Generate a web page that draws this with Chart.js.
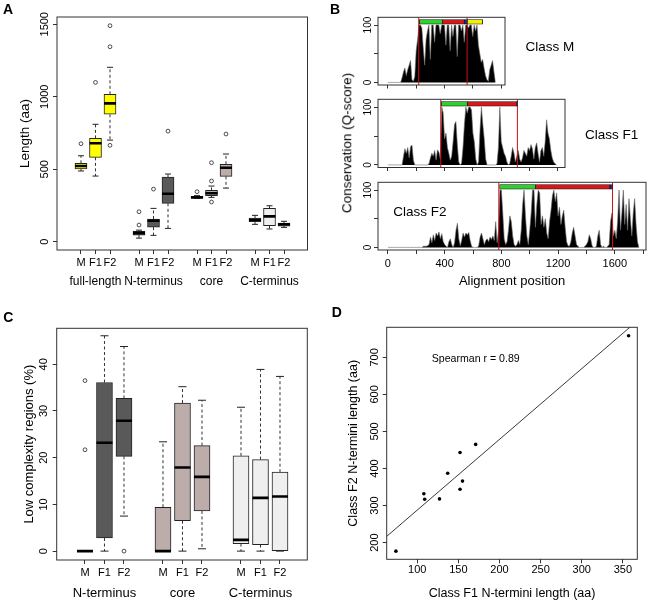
<!DOCTYPE html>
<html><head><meta charset="utf-8">
<script src="https://cdn.jsdelivr.net/npm/chart.js@4.4.0/dist/chart.umd.min.js"></script>
<style>
html,body{margin:0;padding:0;background:#fff;}
body{width:651px;height:604px;position:relative;overflow:hidden;font-family:'Liberation Sans',Arial,sans-serif;}
canvas{position:absolute;}
.lbl{position:absolute;white-space:nowrap;line-height:1;color:#000;}
.panel{font-weight:bold;font-size:14px;}
.rot{transform:translate(-50%,-50%) rotate(-90deg);}
.ctr{transform:translate(-50%,-50%);}
</style></head><body>
<canvas id="cA" width="325" height="300" style="left:0;top:0"></canvas>
<canvas id="cBM" width="316" height="80" style="left:335px;top:10px"></canvas>
<canvas id="cBF1" width="316" height="80" style="left:335px;top:92px"></canvas>
<canvas id="cBF2" width="316" height="125" style="left:335px;top:175px"></canvas>
<canvas id="cC" width="325" height="304" style="left:0;top:300px"></canvas>
<canvas id="cD" width="316" height="304" style="left:335px;top:300px"></canvas>
<div class="lbl panel" style="left:3px;top:2px">A</div>
<div class="lbl panel" style="left:330px;top:1.5px">B</div>
<div class="lbl panel" style="left:3.3px;top:310px">C</div>
<div class="lbl panel" style="left:331.7px;top:305px">D</div>
<div class="lbl rot" style="left:346.7px;top:143px;font-size:13.5px">Conservation (Q-score)</div>
<div class="lbl ctr" style="left:550px;top:46.7px;font-size:13.5px">Class M</div>
<div class="lbl ctr" style="left:611.7px;top:135px;font-size:13.5px">Class F1</div>
<div class="lbl ctr" style="left:420px;top:212px;font-size:13.5px">Class F2</div>
<script>
// ---------------- DATA ----------------
// Panel A: protein/region lengths (aa)
const aPositions = [1,2,3, 5,6,7, 9,10,11, 13,14,15];
const aTickLabels = ['M','F1','F2','M','F1','F2','M','F1','F2','M','F1','F2'];
const aGroups = ['full-length','N-terminus','core','C-terminus'];
const aGroupPositions = [2,6,10,14];
const aYTicks = [0,500,1000,1500];
const aLow    = [488, 453, 701,  25,  44,  92, 300, 306, 370, 120,  88,  99];
const aQ1     = [503, 582, 879,  46, 101, 265, 301, 317, 451, 138, 110, 108];
const aMedian = [522, 679, 954,  60, 145, 331, 306, 334, 510, 152, 175, 120];
const aQ3     = [541, 713,1017,  72, 157, 446, 313, 354, 534, 163, 230, 129];
const aHigh   = [593, 810,1203,  80, 230, 467, 318, 384, 605, 182, 248, 141];
const aOutliers = [[676],[1099],[1490,1345,665],[207,115],[363],[763],[345],[545,419,274],[743],[],[],[]];

// Panel B: conservation profiles (Q-score), one value every 10 alignment positions
const profileStep = 10;
const classMProfile = [0,0,0,0,0,0,0,0,0,0,
  8,18,25,12,22,30,38,5,2,10,
  55,75,100,100,95,60,30,75,90,100,
  40,100,100,70,100,100,100,85,100,100,
  100,65,100,100,55,100,80,100,100,45,
  100,100,90,100,70,100,100,95,100,100,
  80,100,90,100,65,50,35,40,25,12,
  5,2,22,30,38,18,0];
const classF1Profile = [0,0,0,0,0,0,0,0,0,0,0,
  15,28,20,30,12,32,34,8,0,0,
  0,0,0,0,0,0,0,0,2,12,
  20,15,25,8,26,22,10,100,90,45,
  55,30,20,8,15,40,70,75,35,5,
  0,3,30,70,100,90,100,100,95,55,
  40,10,0,5,60,100,70,45,10,0,
  0,0,0,0,0,0,2,30,100,40,
  30,20,15,5,0,2,15,30,20,5,
  15,25,10,5,12,25,20,15,30,25,
  35,28,10,30,38,20,5,25,30,15,
  40,78,55,45,25,12,5,2,0];
const classF2Profile = [0,0,0,0,0,0,0,0,0,0,0,0,0,0,0,0,0,0,0,0,0,0,0,0,0,
  2,2,2,3,5,18,8,22,12,25,
  20,27,15,24,10,5,2,0,10,15,
  5,0,8,30,42,15,3,12,25,18,
  25,22,26,12,2,0,0,0,0,3,
  18,25,15,5,12,15,10,18,14,20,
  12,45,8,30,100,100,60,15,5,10,
  30,55,45,20,5,2,5,12,5,30,
  75,100,55,20,5,30,60,100,100,35,
  75,100,95,40,55,35,50,25,15,45,
  65,90,100,80,95,55,70,40,55,65,
  35,10,3,2,10,25,35,20,5,2,
  0,0,0,0,2,5,10,22,15,3,
  0,0,2,20,30,5,0,2,0,0,
  2,5,45,60,20,30,15,45,100,30,
  60,100,40,75,30,85,50,20,60,85,
  40,10,0];
// core boundaries (red lines) and domain bars
const classMCore = [218, 560];
const classF1Core = [373, 914];
const classF2Core = [782, 1584];
const classMBarStart = [222, 386, 540, 561];
const classMBarEnd   = [386, 540, 561, 670];
const classF1BarStart = [376, 561, 908];
const classF1BarEnd   = [561, 908, 915];
const classF2BarStart = [788, 1041, 1566];
const classF2BarEnd   = [1041, 1566, 1583];
const bXTicks = [0,200,400,600,800,1000,1200,1400,1600,1800];
const bXLabels = ['0','','400','','800','','1200','','1600',''];
const bYTicks = [0,50,100];
const bYLabels = ['0','','100'];

// Panel C: low complexity regions (%)
const cPositions = [1,2,3, 5,6,7, 9,10,11];
const cTickLabels = ['M','F1','F2','M','F1','F2','M','F1','F2'];
const cGroups = ['N-terminus','core','C-terminus'];
const cGroupPositions = [2,6,10];
const cYTicks = [0,10,20,30,40];
const cLow    = [0,   0,    7.5, 0,   0,    0.5, 0,    0,    0];
const cQ1     = [0,   2.8, 20.3, 0,   6.5,  8.6, 1.6,  1.4,  0];
const cMedian = [0,  23.2, 27.9, 0,  17.9, 15.9, 2.4, 11.4, 11.7];
const cQ3     = [0,  36.1, 32.7, 9.4, 31.7, 22.6, 20.4, 19.6, 16.9];
const cHigh   = [0,  46.1, 43.8, 23.4, 35.2, 32.3, 30.8, 38.9, 37.4];
const cOutliers = [[36.5,21.7],[],[0],[],[],[],[],[],[]];

// Panel D: N-termini lengths
const dF1Length = [74, 108, 109, 127, 137, 152, 152, 155, 171, 357];
const dF2Length = [177, 332, 317, 318, 387, 443, 344, 366, 465, 758];
const dFitSlope = 1.908;
const dFitIntercept = 97;
const dXTicks = [100,150,200,250,300,350];
const dYTicks = [200,300,400,500,600,700];

// ---------------- STYLE / HELPERS ----------------
const FONT = "'Liberation Sans', Arial, sans-serif";
Chart.defaults.font.family = FONT;
Chart.defaults.color = '#000';
Chart.defaults.animation = false;
Chart.defaults.plugins.legend.display = false;
Chart.defaults.plugins.tooltip.enabled = false;

const framePlugin = {
  id: 'frame',
  afterDatasetsDraw(chart) {
    const {ctx, chartArea: a} = chart;
    ctx.save();
    ctx.strokeStyle = '#333';
    ctx.lineWidth = 1;
    ctx.strokeRect(a.left, a.top, a.right - a.left, a.bottom - a.top);
    ctx.restore();
  }
};
const fixW = w => s => { s.width = w; };
const fixH = h => s => { s.height = h; };
const setTicks = vals => s => { s.ticks = vals.map(v => ({value: v})); };

function boxDatasets(pos, lo, q1, med, q3, hi, outs, colors, boxW, capR) {
  const whisk = [], caps = [], outPts = [];
  pos.forEach((p, i) => {
    whisk.push({x:p, y:q3[i]}, {x:p, y:hi[i]}, {x:p, y:null}, {x:p, y:q1[i]}, {x:p, y:lo[i]}, {x:p, y:null});
    caps.push({x:p, y:hi[i]}, {x:p, y:lo[i]});
    outs[i].forEach(v => outPts.push({x:p, y:v}));
  });
  return [
    {type:'scatter', data: pos.map((p, i) => ({x:p, y:med[i]})), pointStyle:'line', pointRadius:boxW/2,
     pointBorderWidth:2.6, pointBorderColor:'#000', order:0},
    {type:'scatter', data: outPts, pointStyle:'circle', pointRadius:1.9, pointBackgroundColor:'rgba(0,0,0,0)',
     pointBorderColor:'#222', pointBorderWidth:0.8, order:1},
    {type:'bar', data: pos.map((p, i) => ({x:p, y:[q1[i], q3[i]]})), backgroundColor: colors,
     borderColor:'#222', borderWidth:1, borderSkipped:false, barThickness: boxW, order:2},
    {type:'scatter', data: caps, pointStyle:'line', pointRadius:capR, pointBorderWidth:1,
     pointBorderColor:'#222', order:3},
    {type:'scatter', data: whisk, showLine:true, borderColor:'#333', borderWidth:1, borderDash:[3,2.5],
     pointRadius:0, spanGaps:false, order:4}
  ];
}

function catAxes(positions, labels, groupPos, groups, min, max, h1, h2, p1, p2, gSize) {
  return {
    x: {type:'linear', min, max, offset:false, weight:0, afterBuildTicks:setTicks(positions), afterFit:fixH(h1),
        ticks:{autoSkip:false, maxRotation:0, minRotation:0, padding:p1, font:{size:11}, callback:(v, i) => labels[i]},
        grid:{drawOnChartArea:false, tickLength:4, color:'#333', offset:false}, border:{display:false}},
    x2: {type:'linear', axis:'x', position:'bottom', min, max, offset:false, weight:1,
        afterBuildTicks:setTicks(groupPos), afterFit:fixH(h2),
        ticks:{autoSkip:false, maxRotation:0, minRotation:0, padding:p2, font:{size:gSize}, callback:(v, i) => groups[i]},
        grid:{display:false, drawTicks:false, offset:false}, border:{display:false}}
  };
}
function rotYAxis(min, max, ticks, labels, width, pad, font, title, titleSize, titlePad) {
  const ax = {type:'linear', min, max, offset:false, beginAtZero:false, afterBuildTicks:setTicks(ticks), afterFit:fixW(width),
    ticks:{minRotation:90, maxRotation:90, crossAlign:'center', padding:pad, font:{size:font},
           callback:(v, i) => labels ? labels[i] : String(v)},
    grid:{drawOnChartArea:false, tickLength:4, color:'#333', offset:false}, border:{display:false}};
  if (title) ax.title = {display:true, text:title, font:{size:titleSize}, padding:{top:titlePad, bottom:0}};
  return ax;
}

// ---------------- PANEL A ----------------
const aColors = ['#ffff00','#ffff00','#ffff00','#595959','#595959','#595959',
                 '#bcadaa','#bcadaa','#bcadaa','#efefef','#efefef','#efefef'];
new Chart(document.getElementById('cA'), {
  type:'scatter',
  data:{datasets: boxDatasets(aPositions, aLow, aQ1, aMedian, aQ3, aHigh, aOutliers, aColors, 12, 3)},
  options:{responsive:false, layout:{padding:{top:17, right:17.5, left:0, bottom:0}},
    scales:Object.assign(catAxes(aPositions, aTickLabels, aGroupPositions, aGroups, -0.655, 16.62, 21, 29, 2.4, 3.8, 12),
      {y: rotYAxis(-57, 1550, aYTicks, null, 57, -4.25, 11, 'Length (aa)', 13.5, 17.6)})},
  plugins:[framePlugin]
});

// ---------------- PANEL C ----------------
const cColors = ['#595959','#595959','#595959','#bcadaa','#bcadaa','#bcadaa','#efefef','#efefef','#efefef'];
new Chart(document.getElementById('cC'), {
  type:'scatter',
  data:{datasets: boxDatasets(cPositions, cLow, cQ1, cMedian, cQ3, cHigh, cOutliers, cColors, 16, 4)},
  options:{responsive:false, layout:{padding:{top:28.3, right:17.7, left:0, bottom:0}},
    scales:Object.assign(catAxes(cPositions, cTickLabels, cGroupPositions, cGroups, -0.45, 12.4, 22, 22, 2.1, 3.8, 13),
      {y: rotYAxis(-1.9, 47.7, cYTicks, null, 56.7, 2.6, 11, 'Low complexity regions (%)', 13, 21.9)})},
  plugins:[framePlugin]
});

// ---------------- PANEL B ----------------
function profileChart(id, profile, core, barStart, barEnd, barColors, xmax, padTop, padRight, xHeight, showLabels) {
  const yMin = -4.5, yMax = 113.5;
  const redLine = [];
  core.forEach(c => redLine.push({x:c, y:yMin}, {x:c, y:yMax}, {x:c, y:null}));
  const barY = 105.5;
  const xAxis = {type:'linear', min:-70, max:xmax, offset:false, beginAtZero:false,
    afterBuildTicks:setTicks(bXTicks.filter(v => v <= xmax)), afterFit:fixH(xHeight),
    ticks:{display:showLabels, autoSkip:false, maxRotation:0, minRotation:0, padding:2.9, font:{size:11},
           callback:(v, i) => bXLabels[i]},
    grid:{drawOnChartArea:false, tickLength:showLabels ? 4 : 3.5, color:'#333', offset:false}, border:{display:false}};
  if (showLabels) xAxis.title = {display:true, text:'Alignment position', font:{size:13}, padding:{top:0, bottom:10.7}};
  new Chart(document.getElementById(id), {
    type:'scatter',
    data:{datasets:[
      {type:'bar', indexAxis:'y', data: barStart.map((s, i) => ({y:barY, x:[s, barEnd[i]]})),
       backgroundColor: barColors, borderColor:'#111', borderWidth:0.8, borderSkipped:false, barThickness:4.6, order:0},
      {type:'scatter', data: redLine, showLine:true, borderColor:'#d01010', borderWidth:1, pointRadius:0, spanGaps:false, order:1},
      {type:'line', data: profile.map((v, i) => ({x:i * profileStep, y:v})), fill:'origin', backgroundColor:'#000',
       borderColor:'#6a6a6a', borderWidth:0.6, pointRadius:0, tension:0, order:2}
    ]},
    options:{responsive:false, layout:{padding:{top:padTop, right:padRight, left:0, bottom:0}},
      scales:{x:xAxis, y: rotYAxis(yMin, yMax, bYTicks, bYLabels, 43, -2.65, 10, null)}},
    plugins:[framePlugin]
  });
}
const bGreen = '#2fd12f', bRed = '#d81818', bBlue = '#2a2a9a', bYellow = '#f5f000';
profileChart('cBM', classMProfile, classMCore, classMBarStart, classMBarEnd, [bGreen, bRed, bBlue, bYellow], 828, 7.3, 146, 5, false);
profileChart('cBF1', classF1Profile, classF1Core, classF1BarStart, classF1BarEnd, [bGreen, bRed, bBlue], 1250, 7.3, 86, 4.5, false);
profileChart('cBF2', classF2Profile, classF2Core, classF2BarStart, classF2BarEnd, [bGreen, bRed, bBlue], 1820, 7.3, 5, 50, true);

// ---------------- PANEL D ----------------
const dXMin = 62.8, dXMax = 367.6;
const spearmanPlugin = {
  id:'spearman',
  afterDatasetsDraw(chart) {
    const {ctx, scales:{x, y}} = chart;
    ctx.save();
    ctx.font = "10.6px " + FONT;
    ctx.fillStyle = '#000';
    ctx.textAlign = 'left';
    ctx.textBaseline = 'middle';
    ctx.fillText('Spearman r = 0.89', x.getPixelForValue(117.5), y.getPixelForValue(694.6));
    ctx.restore();
  }
};
new Chart(document.getElementById('cD'), {
  type:'scatter',
  data:{datasets:[
    {data: dF1Length.map((v, i) => ({x:v, y:dF2Length[i]})), pointRadius:1.8, pointBackgroundColor:'#000',
     pointBorderColor:'#000', pointBorderWidth:0, order:0},
    {data: [dXMin, dXMax].map(v => ({x:v, y:dFitIntercept + dFitSlope * v})), showLine:true, borderColor:'#222',
     borderWidth:0.9, pointRadius:0, order:1}
  ]},
  options:{responsive:false, layout:{padding:{top:27.3, right:13.7, left:0, bottom:0}},
    scales:{
      x:{type:'linear', min:dXMin, max:dXMax, offset:false, afterBuildTicks:setTicks(dXTicks), afterFit:fixH(44.7),
         ticks:{autoSkip:false, maxRotation:0, minRotation:0, padding:0.1, font:{size:11}, callback:v => String(v)},
         grid:{drawOnChartArea:false, tickLength:4, color:'#333'}, border:{display:false},
         title:{display:true, text:'Class F1 N-termini length (aa)', font:{size:12.5}, padding:{top:0, bottom:3.2}}},
      y: rotYAxis(155, 781, dYTicks, null, 51.7, -1, 11, 'Class F2 N-termini length (aa)', 12.5, 10.8)
    }},
  plugins:[framePlugin, spearmanPlugin]
});
</script>
</body></html>
